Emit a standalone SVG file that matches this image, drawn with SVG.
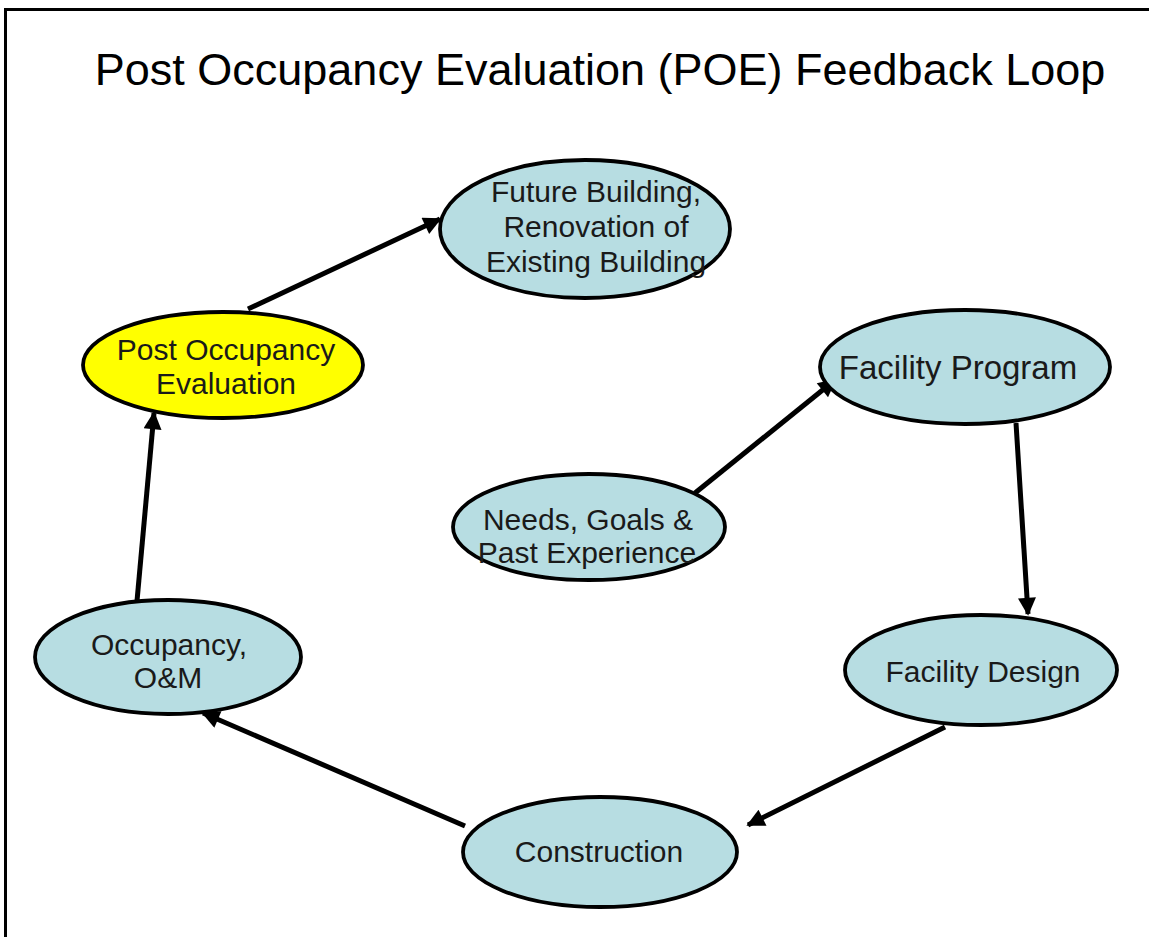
<svg xmlns="http://www.w3.org/2000/svg" width="1149" height="937" viewBox="0 0 1149 937">
<style>
.n{fill:#b7dde2;stroke:#000;stroke-width:3.8}
.y{fill:#ffff00;stroke:#000;stroke-width:3.8}
.t{font-family:"Liberation Sans",Arial,sans-serif;font-size:30px;fill:#1a1a1a;text-anchor:middle}
.c{stroke:#000;stroke-width:5;fill:none;marker-end:url(#ah)}
</style>
<defs>
<marker id="ah" viewBox="0 0 10 10" refX="9" refY="5" markerWidth="4.4" markerHeight="3.6" orient="auto" markerUnits="strokeWidth">
<path d="M0,0 L10,5 L0,10 z" fill="#000"/>
</marker>
</defs>
<rect width="1149" height="937" fill="#fff"/>
<path d="M5.5,937 V9.5 H1149" fill="none" stroke="#000" stroke-width="3"/>
<text x="600" y="85" font-family="Liberation Sans,Arial,sans-serif" font-size="45" fill="#000" text-anchor="middle">Post Occupancy Evaluation (POE) Feedback Loop</text>
<g id="connectors">
<line class="c" x1="248" y1="309" x2="440" y2="219"/>
<line class="c" x1="695" y1="493" x2="835" y2="380"/>
<line class="c" x1="1016" y1="423" x2="1028" y2="614"/>
<line class="c" x1="945" y1="727" x2="748" y2="825"/>
<line class="c" x1="465" y1="826" x2="203" y2="713"/>
<line class="c" x1="137" y1="601" x2="154" y2="413"/>
</g>
<g id="future">
<ellipse class="n" cx="585" cy="229" rx="145" ry="69"/>
<text class="t" x="596" y="202">Future Building,</text>
<text class="t" x="596" y="237">Renovation of</text>
<text class="t" x="596" y="272">Existing Building</text>
</g>
<g id="poe">
<ellipse class="y" cx="223" cy="365" rx="140" ry="53"/>
<text class="t" x="226" y="360">Post Occupancy</text>
<text class="t" x="226" y="394">Evaluation</text>
</g>
<g id="program">
<ellipse class="n" cx="965" cy="367" rx="145" ry="57"/>
<text class="t" x="958" y="379" style="font-size:33px">Facility Program</text>
</g>
<g id="needs">
<ellipse class="n" cx="589" cy="527" rx="136" ry="53"/>
<text class="t" x="588" y="530">Needs, Goals &amp;</text>
<text class="t" x="587" y="563">Past Experience</text>
</g>
<g id="design">
<ellipse class="n" cx="981" cy="670" rx="136" ry="55"/>
<text class="t" x="983" y="682">Facility Design</text>
</g>
<g id="construction">
<ellipse class="n" cx="600" cy="852" rx="137" ry="55"/>
<text class="t" x="599" y="862">Construction</text>
</g>
<g id="occupancy">
<ellipse class="n" cx="168" cy="657" rx="133" ry="57"/>
<text class="t" x="169" y="655">Occupancy,</text>
<text class="t" x="168" y="688">O&amp;M</text>
</g>
</svg>
